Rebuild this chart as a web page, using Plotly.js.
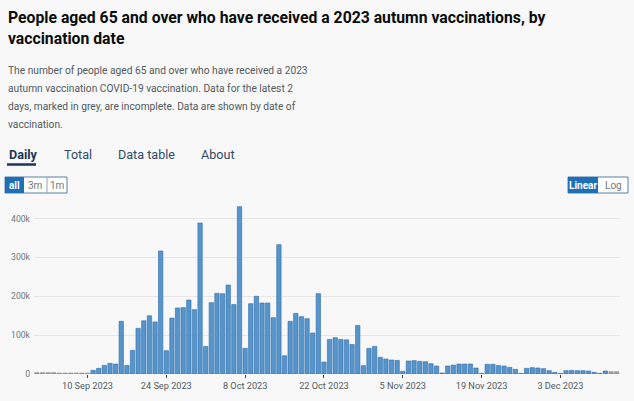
<!DOCTYPE html>
<html>
<head>
<meta charset="utf-8">
<script src="https://cdn.plot.ly/plotly-3.0.1.min.js"></script>
<style>
  html, body { margin: 0; padding: 0; background: #f8f8f8; }
  #chart { width: 634px; height: 401px; }
</style>
</head>
<body>
<div id="chart"></div>
<script>
// ---------------- DATA ----------------
const startDate = "2023-09-01";   // first day shown (daily series)
// people vaccinated per day (thousands), 1 Sep 2023 .. 13 Dec 2023
const dailyValuesK = [
  3.5, 3.5, 3.5, 3.5, 2.5, 2.5, 2.5, 2.5, 2.5, 2.5,          // 1-10 Sep
  9.5, 14.6, 22, 27.5, 25.7, 135.6, 22,                      // 11-17 Sep
  61, 117.6, 137, 150, 134, 316.6, 60,                       // 18-24 Sep
  144, 170, 171, 190.5, 165.6, 388.7, 71,                    // 25 Sep-1 Oct
  183.6, 207.6, 206.8, 229, 179, 430.7, 66,                  // 2-8 Oct
  181, 200, 182.8, 182.8, 145, 333, 47,                      // 9-15 Oct
  135.6, 156, 147.6, 142.4, 105.5, 206.8, 30.9,              // 16-22 Oct
  89, 93.5, 89, 88, 76, 125, 21.5,                           // 23-29 Oct
  66, 71, 42.9, 38.6, 36, 35, 6.9,                           // 30 Oct-5 Nov
  33.5, 34.5, 32.6, 31.7, 26.6, 20.6, 2.6,                   // 6-12 Nov
  20.6, 23, 25.7, 25.7, 25.7, 15.4, 1.7,                     // 13-19 Nov
  25, 25, 22, 20.6, 17, 12, 1.7,                             // 20-26 Nov
  14.6, 16.3, 15.4, 13.7, 8.6, 4.3, 1.7,                     // 27 Nov-3 Dec
  8.6, 9.4, 8.6, 8.6, 7.7, 4.3, 1.7,                         // 4-10 Dec
  7.7, 6, 6                                                  // 11-13 Dec
];
const greyLeading = 10;   // early near-zero days drawn grey
const greyTrailing = 2;   // latest 2 days, incomplete
const xTickVals = ["2023-09-10","2023-09-24","2023-10-08","2023-10-22","2023-11-05","2023-11-19","2023-12-03"];
const xTickText = ["10 Sep 2023","24 Sep 2023","8 Oct 2023","22 Oct 2023","5 Nov 2023","19 Nov 2023","3 Dec 2023"];
const yTickVals = [0, 100000, 200000, 300000, 400000];
const yTickText = ["0", "100k", "200k", "300k", "400k"];

const titleLines = [
  "People aged 65 and over who have received a 2023 autumn vaccinations, by",
  "vaccination date"
];
const descLines = [
  "The number of people aged 65 and over who have received a 2023",
  "autumn vaccination COVID-19 vaccination. Data for the latest 2",
  "days, marked in grey, are incomplete. Data are shown by date of",
  "vaccination."
];
const tabLabels = ["Daily", "Total", "Data table", "About"];
const rangeButtons = ["all", "3m", "1m"];
const scaleButtons = ["Linear", "Log"];

// ---------------- BUILD ----------------
function dayString(base, offset) {
  const d = new Date(base + "T00:00:00Z");
  d.setUTCDate(d.getUTCDate() + offset);
  return d.toISOString().slice(0, 10);
}
const dates = dailyValuesK.map((_, i) => dayString(startDate, i));
const values = dailyValuesK.map(v => v * 1000);
const n = values.length;
const isGrey = values.map((_, i) => i < greyLeading || i >= n - greyTrailing);
const fillCols = isGrey.map(g => g ? "#9a9fa3" : "#5694ca");
const lineCols = isGrey.map(g => g ? "#8a8f93" : "#2f6fae");

const FAM = "'Liberation Sans Narrow', 'Roboto', 'DejaVu Sans', sans-serif";
const cnv = document.createElement("canvas").getContext("2d");
function fit(text, weight, target) {
  cnv.font = weight + " 100px " + FAM;
  return 100 * target / cnv.measureText(text).width;
}
const titleSize = fit(titleLines[0], "bold", 538);
const descSize = fit(descLines[0], "normal", 300);
const tabSize = fit(tabLabels[2], "normal", 57);
const xTickSize = fit(xTickText[0], "normal", 51);
const yTickSize = fit(yTickText[4], "normal", 19);

// plot-area geometry in pixels
const L = 34, R = 14, T = 201, B = 27, W = 634, H = 401;
const pw = W - L - R, ph = H - T - B;
const px = x => (x - L) / pw;
const py = y => (H - B - y) / ph;

const annotations = [];
const shapes = [];
function txt(text, x, y, size, color, weight, xanchor) {
  annotations.push({
    text: weight === "bold" ? "<b>" + text + "</b>" : text,
    xref: "paper", yref: "paper", x: px(x), y: py(y),
    xanchor: xanchor || "left", yanchor: "middle", showarrow: false,
    font: { family: FAM, size: size, color: color }
  });
}
function rect(x0, y0, x1, y1, fill, line) {
  shapes.push({ type: "rect", xref: "paper", yref: "paper",
    x0: px(x0), x1: px(x1), y0: py(y0), y1: py(y1),
    fillcolor: fill, line: { color: line || fill, width: line ? 1 : 0 }, layer: "above" });
}

// title + description
txt(titleLines[0], 6, 17.5, titleSize, "#0b0c0c", "bold");
txt(titleLines[1], 6, 38.5, titleSize, "#0b0c0c", "bold");
[70, 88, 106.5, 124.5].forEach((y, i) => txt(descLines[i], 6, y, descSize, "#505a5f", "normal"));

// tabs
const tabX = [7, 62, 116, 199];
tabLabels.forEach((t, i) => txt(t, tabX[i], 154.5, tabSize, i === 0 ? "#1d3557" : "#2e4a6b", i === 0 ? "bold" : "normal"));
shapes.push({ type: "line", xref: "paper", yref: "paper", x0: px(7), x1: px(36), y0: py(164.5), y1: py(164.5),
  line: { color: "#1d3557", width: 2.5 } });

// range buttons
rect(5, 177, 67, 193, "#ffffff", "#5a7fa8");
rect(5, 177, 24, 193, "#1d70b8");
shapes.push({ type: "line", xref: "paper", yref: "paper", x0: px(47), x1: px(47), y0: py(177), y1: py(193), line: { color: "#8fa6bf", width: 1 } });
txt(rangeButtons[0], 14.5, 185.5, 10, "#ffffff", "bold", "center");
txt(rangeButtons[1], 35.5, 185.5, 10, "#6f777b", "normal", "center");
txt(rangeButtons[2], 57, 185.5, 10, "#6f777b", "normal", "center");

// scale buttons
rect(568, 177, 628, 193, "#ffffff", "#5a7fa8");
rect(568, 177, 598, 193, "#1d70b8");
txt(scaleButtons[0], 583, 185.5, 10, "#ffffff", "bold", "center");
txt(scaleButtons[1], 613, 185.5, 10, "#6f777b", "normal", "center");

const trace = {
  type: "bar", x: dates, y: values,
  marker: { color: fillCols, line: { color: lineCols, width: 0.6 } },
  hoverinfo: "x+y"
};

const layout = {
  width: W, height: H, autosize: false,
  margin: { l: L, r: R, t: T, b: B, pad: 0 },
  paper_bgcolor: "#f8f8f8", plot_bgcolor: "#f8f8f8",
  showlegend: false, bargap: 0.22,
  font: { family: FAM, color: "#505a5f" },
  xaxis: {
    type: "date", range: ["2023-08-31 12:00", "2023-12-13 14:00"],
    tickvals: xTickVals, ticktext: xTickText,
    ticks: "outside", ticklen: 3, tickwidth: 1, tickcolor: "#444",
    showgrid: false, zeroline: false, showline: false,
    tickfont: { family: FAM, size: xTickSize, color: "#505a5f" }
  },
  yaxis: {
    range: [0, ph / 0.3885 * 1000],
    tickvals: yTickVals, ticktext: yTickText,
    ticks: "", showgrid: true, gridcolor: "#e6e6e6", gridwidth: 1,
    zeroline: false, showline: false, ticklabelstandoff: 3,
    tickfont: { family: FAM, size: yTickSize, color: "#6f777b" }
  },
  annotations: annotations,
  shapes: shapes
};

Plotly.newPlot("chart", [trace], layout, { displayModeBar: false, staticPlot: true });
</script>
</body>
</html>
